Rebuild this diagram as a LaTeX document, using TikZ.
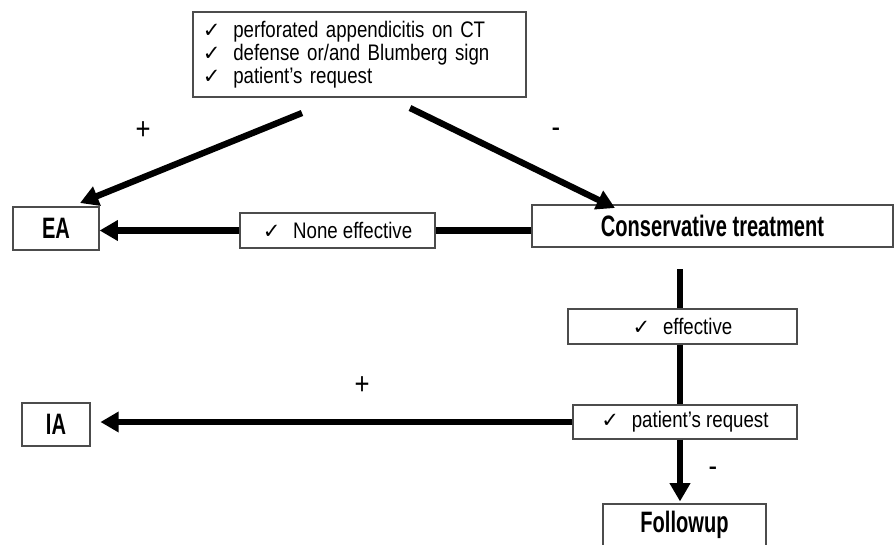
\documentclass[tikz,border=0pt]{standalone}
\usepackage{fontspec}
\setmainfont{Liberation Sans}[FakeStretch=0.83]
\newfontfamily\narrowfont{Liberation Sans}[FakeStretch=0.68]
\newfontfamily\checkfont{DejaVu Sans}
\usetikzlibrary{arrows.meta}

\newcommand{\px}{0.025cm}
\newcommand{\ck}{{\checkfont\fontsize{15}{15}\selectfont ✓}\hspace{9pt}}

\tikzstyle{box}=[draw=black!70, line width=0.8pt, fill=white, inner sep=0pt]
\tikzstyle{plain}=[box, font=\fontsize{16}{16.5}\selectfont]
\tikzstyle{result}=[box, font=\narrowfont\bfseries\fontsize{21}{25}\selectfont]
\tikzstyle{sign}=[inner sep=0pt, font=\fontsize{22}{22}\selectfont]
\tikzstyle{flow}=[line width=4.5pt, -{Triangle[length=13pt,width=14pt]}]
\tikzstyle{link}=[line width=4.5pt]

\begin{document}
\begin{tikzpicture}[x=\px, y=-\px]
			\clip (0,0) rectangle (895,545);
			%The criteria box
			\node[plain, align=left, text width=7.825cm, inner xsep=0.25cm, minimum height=2.125cm] (crit) at (359.5,54.5)
				{\ck perforated appendicitis on CT\\ \ck defense or/and Blumberg sign\\ \ck patient’s request};
			%The outcome boxes
			\node[result, minimum width=2.15cm, minimum height=1.075cm] (ea) at (56,228.5) {EA};
			\node[result, minimum width=9.025cm, minimum height=1.05cm] (cons) at (712.5,226) {Conservative treatment};
			\node[result, minimum width=1.7cm, minimum height=1.075cm] (ia) at (56,424.5) {IA};
			\node[result, minimum width=4.075cm, minimum height=1.05cm] (fu) at (684.5,525) {Followup};
			%The condition boxes
			\node[plain, minimum width=4.875cm, minimum height=0.875cm] (none) at (337.5,230.5) {\ck None effective};
			\node[plain, minimum width=5.725cm, minimum height=0.875cm] (eff) at (682.5,326.5) {\ck effective};
			\node[plain, minimum width=5.6cm, minimum height=0.85cm] (req) at (685,422) {\ck patient’s request};
			%Free ends of the connectors
			\coordinate (critL) at (302,113);
			\coordinate (eaIn) at (80,203);
			\coordinate (critR) at (410,108);
			\coordinate (consIn) at (615,208);
			\coordinate (consOut) at (680,269);
			%Connectors
			\draw[flow] (critL) -- (eaIn);
			\draw[flow] (critR) -- (consIn);
			\draw[link] (cons.west |- none.east) -- (none.east);
			\draw[flow] (none.west) -- (none.west -| ea.east);
			\draw[link] (consOut) -- (consOut |- eff.north);
			\draw[link] (consOut |- eff.south) -- (consOut |- req.north);
			\draw[flow, shorten >=7pt] (req.west) -- (req.west -| ia.east);
			\draw[flow, shorten >=1.4pt] (consOut |- req.south) -- (consOut |- fu.north);
			%Signs on the branches
			\foreach \pos/\name/\sign in {{(143,131)/plusEA/+}, {(556,133)/minusCT/-},
										  {(362,386)/plusIA/+}, {(713,472)/minusFU/-}}
			\node[sign] (\name) at \pos {\sign};
		\end{tikzpicture}
\end{document}
